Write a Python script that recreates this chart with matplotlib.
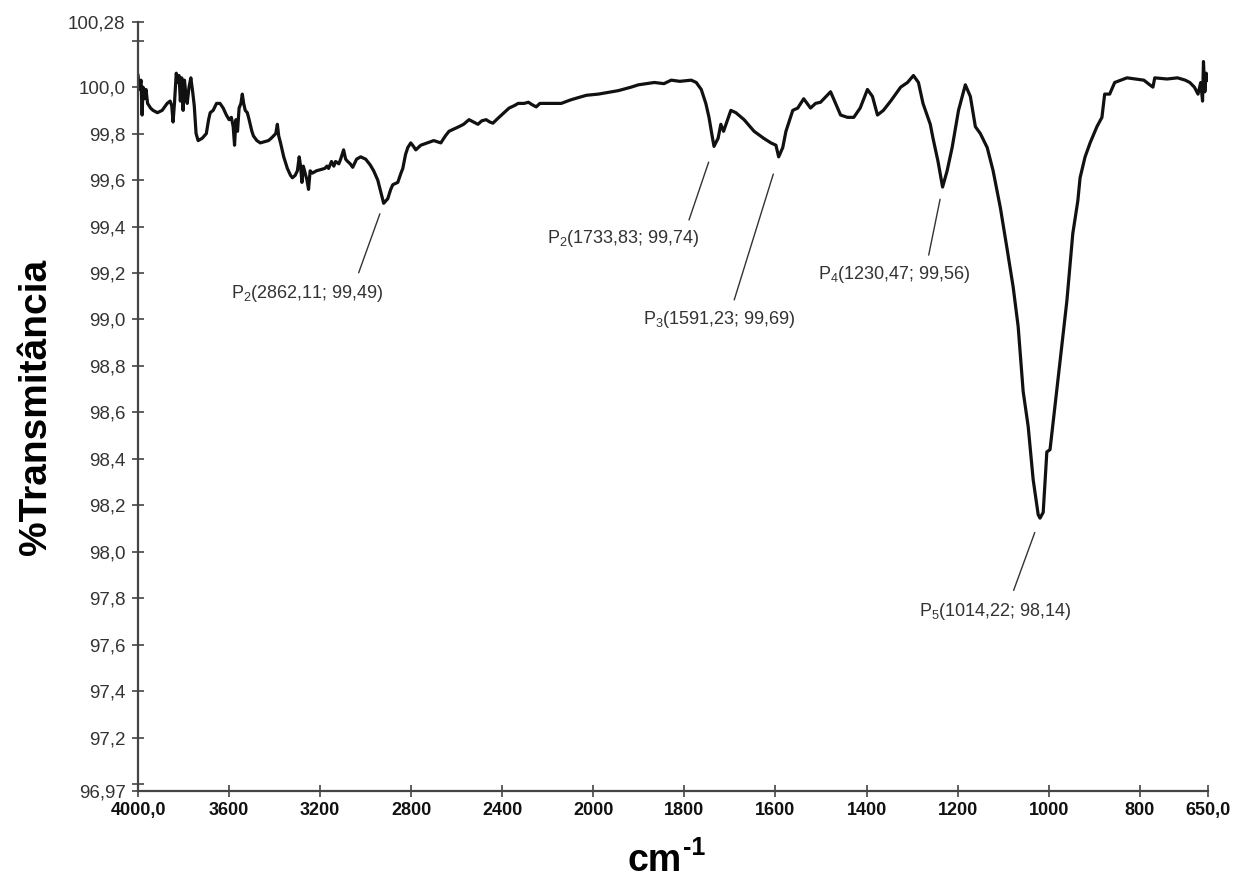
import matplotlib
matplotlib.use("Agg")
import matplotlib.pyplot as plt
import numpy as np

plt.rcParams["font.family"] = ["Liberation Sans", "DejaVu Sans"]
plt.rcParams["mathtext.fontset"] = "custom"
plt.rcParams["mathtext.rm"] = "Liberation Sans"
plt.rcParams["mathtext.bf"] = "Liberation Sans:bold"
plt.rcParams["mathtext.default"] = "regular"

# =========================
# data
# =========================
wavenumber = [
    4000, 3993, 3987, 3982, 3978, 3972, 3965, 3958, 3945, 3934, 3915, 3894,
    3872, 3859, 3852, 3846, 3840, 3832, 3826, 3820, 3814, 3808, 3802, 3796,
    3790, 3784, 3776, 3768, 3760, 3753, 3745, 3736, 3718, 3700, 3690, 3683,
    3670, 3655, 3640, 3626, 3612, 3600, 3590, 3582, 3576, 3570, 3563, 3556,
    3548, 3542, 3536, 3529, 3520, 3512, 3500, 3493, 3478, 3463, 3445, 3427,
    3415, 3405, 3395, 3388, 3382, 3374, 3360, 3344, 3330, 3322, 3310, 3300,
    3292, 3286, 3280, 3274, 3266, 3258, 3251, 3244, 3234, 3216, 3198, 3180,
    3170, 3163, 3150, 3140, 3132, 3118, 3110, 3097, 3088, 3079, 3068, 3057,
    3040, 3022, 3000, 2980, 2965, 2947, 2934, 2921, 2903, 2890, 2881, 2859,
    2845, 2837, 2825, 2815, 2802, 2790, 2780, 2758, 2730, 2701, 2670, 2650,
    2634, 2612, 2590, 2570, 2546, 2527, 2507, 2490, 2471, 2455, 2441, 2420,
    2392, 2370, 2348, 2330, 2304, 2285, 2270, 2251, 2235, 2216, 2180, 2141,
    2100, 2066, 2030, 1989, 1945, 1917, 1901, 1866, 1845, 1829, 1810, 1785,
    1774, 1763, 1753, 1746, 1740, 1735, 1726, 1720, 1714, 1698, 1687, 1669,
    1647, 1626, 1610, 1599, 1593, 1584, 1577, 1562, 1551, 1538, 1523, 1512,
    1501, 1479, 1457, 1442, 1428, 1414, 1398, 1387, 1376, 1363, 1347, 1325,
    1310, 1297, 1286, 1276, 1260, 1254, 1243, 1233, 1223, 1212, 1198, 1183,
    1172, 1161, 1150, 1135, 1122, 1106, 1091, 1078, 1067, 1056, 1045, 1034,
    1023, 1019, 1012, 1004, 997, 990, 975, 960, 947, 936, 931, 920,
    909, 894, 883, 877, 866, 855, 828, 791, 778, 771, 767, 740,
    717, 700, 690, 680, 672, 666, 662, 660, 657, 654, 650,
]
transmittance = [
    100.05, 99.99, 100.03, 99.88, 100.00, 99.95, 99.99, 99.93, 99.91, 99.90, 99.89, 99.90,
    99.93, 99.94, 99.92, 99.85, 99.93, 100.06, 100.02, 100.05, 99.94, 100.04, 99.90, 100.03,
    99.97, 99.93, 100.00, 100.04, 99.98, 99.92, 99.80, 99.77, 99.78, 99.80, 99.86, 99.89,
    99.90, 99.93, 99.93, 99.91, 99.88, 99.86, 99.87, 99.83, 99.75, 99.86, 99.81, 99.91,
    99.93, 99.97, 99.93, 99.90, 99.89, 99.86, 99.81, 99.79, 99.77, 99.76, 99.765, 99.77,
    99.78, 99.79, 99.80, 99.84, 99.79, 99.76, 99.70, 99.65, 99.62, 99.61, 99.62, 99.64,
    99.70, 99.66, 99.59, 99.66, 99.63, 99.60, 99.56, 99.64, 99.63, 99.64, 99.645, 99.65,
    99.66, 99.65, 99.68, 99.66, 99.68, 99.67, 99.69, 99.73, 99.69, 99.68, 99.67, 99.655,
    99.69, 99.70, 99.69, 99.665, 99.64, 99.60, 99.55, 99.50, 99.52, 99.56, 99.58, 99.59,
    99.63, 99.65, 99.71, 99.74, 99.76, 99.745, 99.73, 99.75, 99.76, 99.77, 99.76, 99.79,
    99.81, 99.82, 99.83, 99.84, 99.86, 99.85, 99.84, 99.855, 99.86, 99.85, 99.845, 99.865,
    99.89, 99.91, 99.92, 99.93, 99.93, 99.935, 99.925, 99.915, 99.93, 99.93, 99.93, 99.93,
    99.945, 99.955, 99.965, 99.97, 99.985, 100.00, 100.01, 100.02, 100.015, 100.03, 100.025, 100.03,
    100.02, 99.99, 99.93, 99.87, 99.80, 99.745, 99.78, 99.84, 99.81, 99.90, 99.89, 99.86,
    99.81, 99.78, 99.76, 99.75, 99.70, 99.74, 99.81, 99.90, 99.91, 99.95, 99.91, 99.93,
    99.935, 99.98, 99.88, 99.87, 99.87, 99.91, 99.99, 99.96, 99.88, 99.90, 99.94, 100.00,
    100.02, 100.05, 100.02, 99.93, 99.84, 99.78, 99.68, 99.57, 99.64, 99.74, 99.90, 100.01,
    99.96, 99.83, 99.80, 99.74, 99.64, 99.48, 99.30, 99.14, 98.97, 98.69, 98.54, 98.31,
    98.16, 98.145, 98.17, 98.43, 98.44, 98.56, 98.82, 99.08, 99.37, 99.51, 99.61, 99.70,
    99.76, 99.83, 99.87, 99.97, 99.97, 100.02, 100.04, 100.03, 100.01, 100.00, 100.04, 100.035,
    100.04, 100.03, 100.02, 100.00, 99.97, 100.02, 99.94, 100.11, 99.98, 100.06, 100.03,
]

peak_wn = [2921, 1735, 1593, 1233, 1019]
peak_t = [99.50, 99.745, 99.70, 99.57, 98.145]
peak_labels = [
    "P$_2$(2862,11; 99,49)",
    "P$_2$(1733,83; 99,74)",
    "P$_3$(1591,23; 99,69)",
    "P$_4$(1230,47; 99,56)",
    "P$_5$(1014,22; 98,14)",
]

x_ticks = [4000, 3600, 3200, 2800, 2400, 2000, 1800, 1600, 1400, 1200, 1000, 800, 650]
x_tick_labels = ["4000,0", "3600", "3200", "2800", "2400", "2000", "1800",
                 "1600", "1400", "1200", "1000", "800", "650,0"]
y_ticks = [96.97, 97.0, 97.2, 97.4, 97.6, 97.8, 98.0, 98.2, 98.4, 98.6, 98.8,
           99.0, 99.2, 99.4, 99.6, 99.8, 100.0, 100.2, 100.28]
y_tick_labels = ["96,97", "", "97,2", "97,4", "97,6", "97,8", "98,0", "98,2",
                 "98,4", "98,6", "98,8", "99,0", "99,2", "99,4", "99,6", "99,8",
                 "100,0", "", "100,28"]


# x axis is expanded by 2x below 2000 cm-1 (usual FTIR layout)
def fwd(x):
    x = np.asarray(x, dtype=float)
    return np.where(x >= 2000, x, 2 * x - 2000)


def inv(y):
    y = np.asarray(y, dtype=float)
    return np.where(y >= 2000, y, (y + 2000) / 2)


# =========================
# plot
# =========================
fig = plt.figure(figsize=(12.39, 8.83), dpi=100)
ax = fig.add_axes([0.1114, 0.104, 0.8636, 0.871])

ax.set_xscale("function", functions=(fwd, inv))
ax.plot(wavenumber, transmittance, color="#111111", linewidth=2.3,
        solid_joinstyle="round")
ax.set_xlim(4000, 650)
ax.set_ylim(96.97, 100.28)

ax.set_xticks(x_ticks, labels=x_tick_labels)
ax.set_yticks(y_ticks, labels=y_tick_labels)
ax.minorticks_off()

for lab in ax.get_xticklabels():
    lab.set_fontweight("bold")
ax.tick_params(axis="x", labelsize=13, direction="inout", length=8, width=1.2,
               color="#444444", labelcolor="#111111", pad=4)
ax.tick_params(axis="y", labelsize=13.5, direction="inout", length=8, width=1.2,
               color="#444444", labelcolor="#333333", pad=5)

for s in ["top", "right"]:
    ax.spines[s].set_visible(False)
for s in ["left", "bottom"]:
    ax.spines[s].set_color("#444444")
    ax.spines[s].set_linewidth(1.6)

ax.set_ylabel("%Transmitância", fontsize=28, fontweight="bold", labelpad=10)
ax.set_xlabel("cm", fontsize=27, fontweight="bold", labelpad=8)
ax.xaxis.set_label_coords(0.483, -0.067)
ax.annotate("-1", xy=(1, 1), xycoords=ax.xaxis.label, xytext=(1, -4),
            textcoords="offset points", ha="left", va="center",
            fontsize=18, fontweight="bold")

# leader lines and labels (offsets in points)
line_end = [(-18, -50), (-18, -53), (-32, -103), (-10, -49), (-19, -52)]
gap = [8, 12, 13, 9, 11]
text_pos = [(-55, -65), (-65, -66), (-43, -117), (-35, -63), (-32, -67)]

for wn, t, lab, le, g, tp in zip(peak_wn, peak_t, peak_labels, line_end, gap, text_pos):
    ax.annotate("", xy=(wn, t), xytext=le, textcoords="offset points",
                arrowprops=dict(arrowstyle="-", color="#333333", lw=1.0,
                                shrinkA=0, shrinkB=g))
    ax.annotate(lab, xy=(wn, t), xytext=tp, textcoords="offset points",
                ha="center", va="center", fontsize=13, color="#333333")

fig.savefig("out.png", dpi=100)
